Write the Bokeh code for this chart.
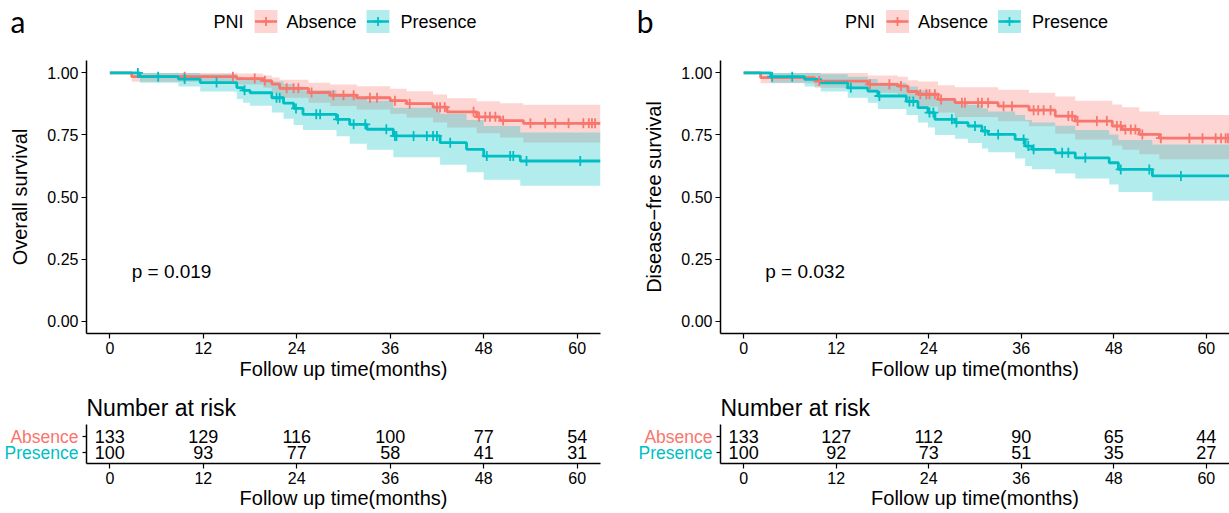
import numpy as np
from bokeh.plotting import figure
from bokeh.layouts import row, column
from bokeh.models import Range1d, FixedTicker, NumeralTickFormatter, LinearAxis
from bokeh.core.properties import value
from bokeh.embed import file_html
from bokeh.resources import INLINE

# ---------------- data ----------------
GROUPS = ["Absence", "Presence"]
LEGEND_TITLE = "PNI"
X_TICKS = [0, 12, 24, 36, 48, 60]
Y_TICKS = [0, 0.25, 0.5, 0.75, 1.0]
RISK_TIMES = [0, 12, 24, 36, 48, 60]
X_LABEL = "Follow up time(months)"
RISK_TITLE = "Number at risk"
END_T = 63

# Panel a - overall survival
OS_ABS_T = [0, 2.8, 16.3, 19.7, 20.8, 21.8, 25.5, 28.3, 31.7, 36.0, 38.1, 41.5, 43.3, 47.1, 50.1, 53.1]
OS_ABS_S = [1.0, 0.985, 0.977, 0.968, 0.955, 0.938, 0.921, 0.910, 0.900, 0.888, 0.876, 0.862, 0.843, 0.823, 0.808, 0.797]
OS_ABS_LO = [1.0, 0.964, 0.953, 0.940, 0.920, 0.900, 0.880, 0.867, 0.853, 0.835, 0.820, 0.800, 0.780, 0.757, 0.740, 0.720]
OS_ABS_HI = [1.0, 1.0, 0.998, 0.990, 0.982, 0.972, 0.960, 0.953, 0.946, 0.936, 0.926, 0.913, 0.898, 0.886, 0.878, 0.872]
OS_ABS_CENS = [9.6, 15.8, 18.6, 19.9, 22.7, 23.6, 24.2, 25.9, 28.7, 30.0, 31.3, 33.4, 34.3, 36.6, 38.5, 42.0,
               42.4, 43.0, 46.7, 47.4, 48.2, 48.8, 49.5, 50.5, 54.0, 55.9, 57.2, 58.9, 60.8, 61.5, 61.9, 62.3]

OS_PRE_T = [0, 3.85, 8.8, 11.6, 16.3, 17.1, 18.0, 20.8, 22.3, 23.6, 24.8, 29.1, 30.8, 33.0, 36.4, 42.4, 45.8, 48.0, 52.7]
OS_PRE_S = [1.0, 0.985, 0.975, 0.961, 0.941, 0.930, 0.920, 0.900, 0.878, 0.857, 0.833, 0.813, 0.793, 0.773, 0.746, 0.719, 0.692, 0.665, 0.645]
OS_PRE_LO = [1.0, 0.960, 0.945, 0.925, 0.895, 0.880, 0.868, 0.840, 0.815, 0.790, 0.770, 0.745, 0.715, 0.690, 0.660, 0.630, 0.600, 0.570, 0.545]
OS_PRE_HI = [1.0, 1.0, 1.0, 0.995, 0.985, 0.980, 0.975, 0.965, 0.955, 0.945, 0.930, 0.915, 0.903, 0.888, 0.860, 0.835, 0.810, 0.786, 0.760]
OS_PRE_CENS = [3.6, 6.2, 9.6, 13.7, 17.3, 21.4, 21.8, 23.9, 26.5, 27.0, 29.3, 31.3, 32.8, 35.5, 36.6, 36.8,
               39.0, 40.7, 41.5, 42.0, 43.7, 48.4, 51.4, 51.8, 53.5, 60.4]

OS_RISK_ABS = [133, 129, 116, 100, 77, 54]
OS_RISK_PRE = [100, 93, 77, 58, 41, 31]
OS_PVAL = "p = 0.019"
OS_YLABEL = "Overall survival"

# Panel b - disease-free survival
DFS_ABS_T = [0, 2.2, 9.2, 16.1, 20.0, 21.3, 22.6, 25.2, 27.4, 33.0, 37.0, 40.4, 43.0, 47.8, 49.1, 51.3, 53.9]
DFS_ABS_S = [1.0, 0.981, 0.967, 0.954, 0.947, 0.925, 0.914, 0.893, 0.880, 0.866, 0.850, 0.826, 0.806, 0.786, 0.772, 0.752, 0.737]
DFS_ABS_LO = [1.0, 0.958, 0.940, 0.920, 0.910, 0.880, 0.865, 0.840, 0.822, 0.805, 0.785, 0.755, 0.732, 0.708, 0.690, 0.672, 0.652]
DFS_ABS_HI = [1.0, 1.0, 1.0, 0.990, 0.985, 0.970, 0.965, 0.950, 0.942, 0.932, 0.920, 0.905, 0.888, 0.873, 0.862, 0.845, 0.830]
DFS_ABS_CENS = [9.8, 16.4, 18.9, 20.4, 22.9, 23.7, 24.1, 24.8, 25.6, 28.3, 28.7, 30.4, 30.9, 31.7, 33.7, 34.8,
                37.6, 38.2, 38.9, 39.8, 42.1, 42.6, 43.3, 45.8, 47.1, 48.4, 48.9, 49.5, 50.2, 50.8, 51.7, 54.1,
                57.8, 59.5, 61.2, 61.9, 62.5, 62.8]

DFS_PRE_T = [0, 3.5, 7.9, 10.0, 13.5, 16.1, 17.4, 21.1, 22.6, 23.9, 24.8, 27.4, 29.1, 30.9, 31.7, 35.2, 36.5, 37.4, 40.4, 43.0, 47.4, 48.6, 53.0]
DFS_PRE_S = [1.0, 0.985, 0.974, 0.960, 0.940, 0.927, 0.907, 0.885, 0.860, 0.840, 0.813, 0.800, 0.786, 0.766, 0.752, 0.732, 0.705, 0.692, 0.678, 0.658, 0.638, 0.611, 0.585]
DFS_PRE_LO = [1.0, 0.960, 0.945, 0.925, 0.900, 0.880, 0.855, 0.830, 0.800, 0.780, 0.750, 0.735, 0.718, 0.695, 0.680, 0.655, 0.625, 0.612, 0.595, 0.575, 0.550, 0.520, 0.485]
DFS_PRE_HI = [1.0, 1.0, 1.0, 0.995, 0.985, 0.975, 0.960, 0.945, 0.930, 0.915, 0.895, 0.885, 0.872, 0.857, 0.845, 0.830, 0.810, 0.800, 0.787, 0.770, 0.752, 0.730, 0.712]
DFS_PRE_CENS = [3.7, 6.3, 13.9, 17.6, 21.5, 22.0, 24.1, 24.6, 27.0, 27.6, 30.0, 31.3, 33.0, 36.3, 36.9, 37.6,
                41.3, 42.1, 44.3, 48.9, 52.6, 56.7]

DFS_RISK_ABS = [133, 127, 112, 90, 65, 44]
DFS_RISK_PRE = [100, 92, 73, 51, 35, 27]
DFS_PVAL = "p = 0.032"
DFS_YLABEL = "Disease\u2212free survival"

# ---------------- style ----------------
RED = "#F8766D"
TEAL = "#00BFC4"
COLORS = [RED, TEAL]
FONT = "Liberation Sans"
LETTER_FONT = "Lato"

HDR_H = 52
KM_H = 332
RISK_H = 129


def style_axis(ax):
    ax.axis_line_color = "black"
    ax.axis_line_width = 1.5
    ax.major_tick_line_color = "black"
    ax.major_tick_line_width = 1.2
    ax.major_tick_in = 0
    ax.major_tick_out = 5
    ax.minor_tick_line_color = None
    ax.major_label_text_font = FONT
    ax.major_label_text_font_size = "16px"
    ax.major_label_text_color = "black"
    ax.axis_label_text_font = FONT
    ax.axis_label_text_font_size = "20px"
    ax.axis_label_text_font_style = "normal"
    ax.axis_label_text_color = "black"


def base_fig(width, height, bl, br, bt, bb, y_range, **kw):
    p = figure(width=width, height=height, x_range=Range1d(-3, END_T), y_range=y_range,
               output_backend="svg", toolbar_location=None,
               min_border_left=bl, min_border_right=br, min_border_top=bt, min_border_bottom=bb, **kw)
    p.grid.visible = False
    p.outline_line_color = None
    return p


def header(width, bl, br, letter, letter_standoff):
    fw = width - bl - br
    h = figure(width=width, height=HDR_H, x_range=Range1d(0, fw), y_range=Range1d(HDR_H, 0),
               output_backend="svg", toolbar_location=None, x_axis_location=None,
               min_border_left=bl, min_border_right=br, min_border_top=0, min_border_bottom=0)
    h.grid.visible = False
    h.outline_line_color = None
    ax = h.yaxis[0]
    ax.ticker = FixedTicker(ticks=[20])
    ax.major_label_overrides = {20: letter}
    ax.axis_line_color = None
    ax.major_tick_line_color = None
    ax.minor_tick_line_color = None
    ax.major_tick_out = 0
    ax.major_label_standoff = letter_standoff
    ax.major_label_text_font = LETTER_FONT
    ax.major_label_text_font_size = "30px"
    ax.major_label_text_color = "black"

    cx = fw / 2.0
    ly = 21
    h.text(x=[cx - 130], y=[ly], text=[LEGEND_TITLE], text_font=value(FONT), text_font_size="18px",
           text_baseline="middle", text_align="left", text_color="black")
    key_x = [cx - 77.5, cx + 34.5]
    txt_x = [cx - 57, cx + 57]
    for g, col, kx, tx in zip(GROUPS, COLORS, key_x, txt_x):
        h.rect(x=[kx], y=[ly], width=23, height=23, fill_color=col, fill_alpha=0.3, line_color=None)
        h.segment(x0=[kx - 11], y0=[ly], x1=[kx + 11], y1=[ly], line_color=col, line_width=2.5)
        h.scatter(x=[kx], y=[ly], marker="cross", size=9, line_color=col, line_width=1.8)
        h.text(x=[tx], y=[ly], text=[g], text_font=value(FONT), text_font_size="18px",
               text_baseline="middle", text_align="left", text_color="black")
    return h


def km_panel(width, bl, br, ylabel, curves, pval):
    p = base_fig(width, KM_H, bl, br, 8, 51, Range1d(-0.05, 1.05))
    style_axis(p.xaxis[0])
    style_axis(p.yaxis[0])
    p.xaxis.ticker = FixedTicker(ticks=X_TICKS)
    p.yaxis.ticker = FixedTicker(ticks=Y_TICKS)
    p.yaxis.formatter = NumeralTickFormatter(format="0.00")
    p.xaxis.axis_label = X_LABEL
    p.yaxis.axis_label = ylabel
    p.xaxis.major_label_standoff = 3
    p.xaxis.axis_label_standoff = 1
    p.yaxis.major_label_standoff = 3
    p.yaxis.axis_label_standoff = 13

    prepared = []
    for (t, s, lo, hi, cens), col in zip(curves, COLORS):
        x = list(t) + [END_T]
        ys = list(s) + [s[-1]]
        ylo = list(lo) + [lo[-1]]
        yhi = list(hi) + [hi[-1]]
        idx = np.searchsorted(np.array(t), np.array(cens), side="right") - 1
        cy = [s[i] for i in idx]
        prepared.append((x, ys, ylo, yhi, cens, cy, col))
    for x, ys, ylo, yhi, cens, cy, col in prepared:
        p.varea_step(x=x, y1=ylo, y2=yhi, step_mode="after", fill_color=col, fill_alpha=0.3)
    for x, ys, ylo, yhi, cens, cy, col in prepared:
        p.step(x=x, y=ys, mode="after", line_color=col, line_width=2.8)
    for x, ys, ylo, yhi, cens, cy, col in prepared:
        p.scatter(x=cens, y=cy, marker="cross", size=10, line_color=col, line_width=1.8)
    p.text(x=[2.8], y=[0.2], text=[pval], text_font=value(FONT), text_font_size="19px",
           text_baseline="middle", text_align="left", text_color="black")
    return p


def risk_panel(width, bl, br, counts):
    # rows: 1 = Absence (upper), 0 = Presence (lower); 16 px per row unit
    p = base_fig(width, RISK_H, bl, br, 40, 50, Range1d(-0.6875, 1.75), title=RISK_TITLE)
    p.title.text_font = FONT
    p.title.text_font_size = "23px"
    p.title.text_font_style = "normal"
    p.title.text_color = "black"
    p.title.align = "left"
    p.title.standoff = 8
    style_axis(p.xaxis[0])
    p.xaxis.ticker = FixedTicker(ticks=X_TICKS)
    p.xaxis.axis_label = X_LABEL
    p.xaxis.major_label_standoff = 3
    p.xaxis.axis_label_standoff = 0

    # inner axis: line, both row ticks, "Presence" label
    ax0 = p.yaxis[0]
    style_axis(ax0)
    ax0.ticker = FixedTicker(ticks=[0], minor_ticks=[1])
    ax0.major_label_overrides = {0: GROUPS[1]}
    ax0.major_label_text_color = COLORS[1]
    ax0.major_label_text_font_size = "17.5px"
    ax0.major_tick_out = 4
    ax0.minor_tick_out = 4
    ax0.minor_tick_in = 0
    ax0.minor_tick_line_color = "black"
    ax0.minor_tick_line_width = 1.2
    ax0.major_label_standoff = 4

    # outer axis: only the "Absence" label, pulled back next to the inner labels
    ax1 = LinearAxis(ticker=FixedTicker(ticks=[1]))
    ax1.major_label_overrides = {1: GROUPS[0]}
    ax1.axis_line_color = None
    ax1.major_tick_line_color = None
    ax1.minor_tick_line_color = None
    ax1.major_tick_out = 0
    ax1.major_tick_in = 0
    ax1.major_label_text_font = FONT
    ax1.major_label_text_font_size = "17.5px"
    ax1.major_label_text_color = COLORS[0]
    ax1.major_label_standoff = -77
    p.add_layout(ax1, "left")

    for cnt, ry in zip(counts, [1, 0]):
        p.text(x=RISK_TIMES, y=[ry] * len(RISK_TIMES), text=[str(v) for v in cnt],
               text_font=value(FONT), text_font_size="18px", text_align="center",
               text_baseline="middle", text_color="black")
    return p


LEFT_W, RIGHT_W = 620, 609
LEFT_BL, LEFT_BR = 86, 20
RIGHT_BL, RIGHT_BR = 100, 0

hdr_a = header(LEFT_W, LEFT_BL, LEFT_BR, "a", 61)
km_a = km_panel(LEFT_W, LEFT_BL, LEFT_BR, OS_YLABEL,
                [(OS_ABS_T, OS_ABS_S, OS_ABS_LO, OS_ABS_HI, OS_ABS_CENS),
                 (OS_PRE_T, OS_PRE_S, OS_PRE_LO, OS_PRE_HI, OS_PRE_CENS)], OS_PVAL)
risk_a = risk_panel(LEFT_W, LEFT_BL, LEFT_BR, [OS_RISK_ABS, OS_RISK_PRE])

hdr_b = header(RIGHT_W, RIGHT_BL, RIGHT_BR, "b", 67)
km_b = km_panel(RIGHT_W, RIGHT_BL, RIGHT_BR, DFS_YLABEL,
                [(DFS_ABS_T, DFS_ABS_S, DFS_ABS_LO, DFS_ABS_HI, DFS_ABS_CENS),
                 (DFS_PRE_T, DFS_PRE_S, DFS_PRE_LO, DFS_PRE_HI, DFS_PRE_CENS)], DFS_PVAL)
risk_b = risk_panel(RIGHT_W, RIGHT_BL, RIGHT_BR, [DFS_RISK_ABS, DFS_RISK_PRE])

layout = row(column(hdr_a, km_a, risk_a), column(hdr_b, km_b, risk_b))

open("out.html", "w").write(file_html(layout, INLINE))
